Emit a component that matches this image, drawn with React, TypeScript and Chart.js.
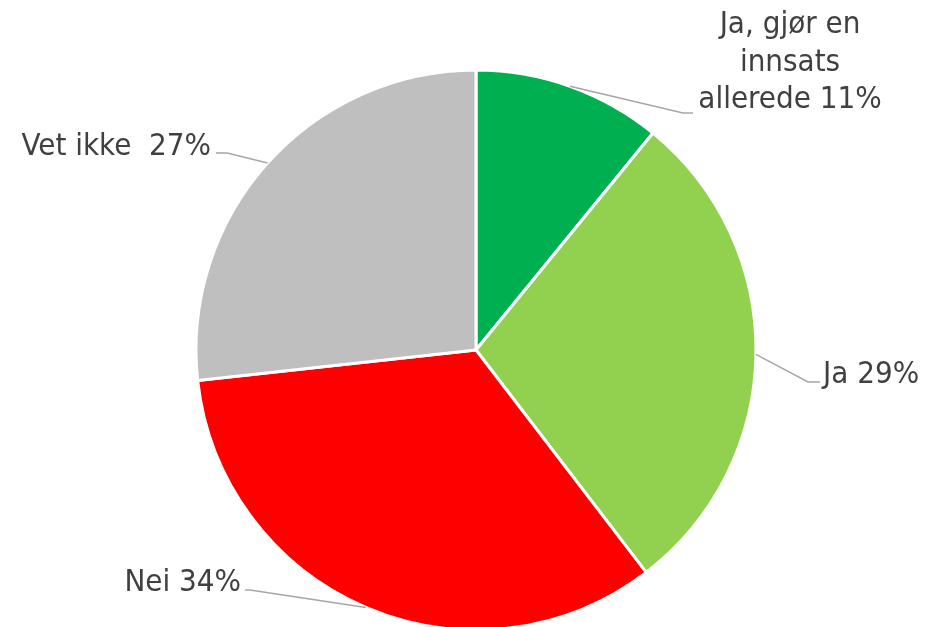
import React, { useEffect, useRef } from "react";
import { Chart, registerables } from "chart.js";
Chart.register(...registerables);

const categories = ["Ja, gjør en innsats allerede", "Ja", "Nei", "Vet ikke"];
const values = [11, 29, 34, 27];
const labelTexts = [["Ja, gjør en", "innsats", "allerede 11%"], ["Ja 29%"], ["Nei 34%"], ["Vet ikke  27%"]];
const colors = ["#00B050", "#92D050", "#FF0000", "#BFBFBF"];

// label layout (annotation placement)
const labelLayout = [
  { elbow: [683, 113], end: [693, 113], text: [790, 33], align: "center" },
  { elbow: [808, 382], end: [820, 382], text: [823, 383], align: "left" },
  { elbow: [250, 590], end: [245, 590], text: [241, 591], align: "right" },
  { elbow: [227, 153], end: [216, 153], text: [211, 155], align: "right" },
];
const FONT = "31px 'DejaVu Sans Condensed', 'DejaVu Sans'";
const LINE_H = 37.5;

const leaderPlugin = {
  id: "leaders",
  afterDatasetsDraw(chart: any) {
    const ctx = chart.ctx;
    const meta = chart.getDatasetMeta(0);
    ctx.save();
    meta.data.forEach((arc: any, i: number) => {
      const p = arc.getProps(["x", "y", "startAngle", "endAngle", "outerRadius"], true);
      const mid = (p.startAngle + p.endAngle) / 2;
      const sx = p.x + Math.cos(mid) * p.outerRadius;
      const sy = p.y + Math.sin(mid) * p.outerRadius;
      const L = labelLayout[i];
      ctx.strokeStyle = "#A6A6A6";
      ctx.lineWidth = 1.5;
      ctx.beginPath();
      ctx.moveTo(sx, sy);
      ctx.lineTo(L.elbow[0], L.elbow[1]);
      ctx.lineTo(L.end[0], L.end[1]);
      ctx.stroke();
      ctx.fillStyle = "#404040";
      ctx.font = FONT;
      ctx.textAlign = L.align as CanvasTextAlign;
      ctx.textBaseline = "alphabetic";
      labelTexts[i].forEach((t, j) => {
        ctx.fillText(t, L.text[0], L.text[1] + j * LINE_H);
      });
    });
    ctx.restore();
  },
};

export default function App() {
  const ref = useRef<HTMLCanvasElement>(null);
  useEffect(() => {
    document.body.style.margin = "0";
    const chart = new Chart(ref.current!, {
      type: "pie",
      data: {
        labels: categories,
        datasets: [
          {
            data: values,
            backgroundColor: colors,
            borderColor: "#FFFFFF",
            borderWidth: 3,
            radius: 280,
            clip: false as any,
          } as any,
        ],
      },
      options: {
        animation: false,
        responsive: true,
        maintainAspectRatio: false,
        layout: { padding: { left: 18, right: 0, top: 73, bottom: 0 } },
        plugins: { legend: { display: false }, tooltip: { enabled: false } },
      },
      plugins: [leaderPlugin],
    });
    return () => chart.destroy();
  }, []);
  return (
    <div style={{ width: 934, height: 627, position: "relative", background: "#fff" }}>
      <canvas ref={ref} />
    </div>
  );
}
